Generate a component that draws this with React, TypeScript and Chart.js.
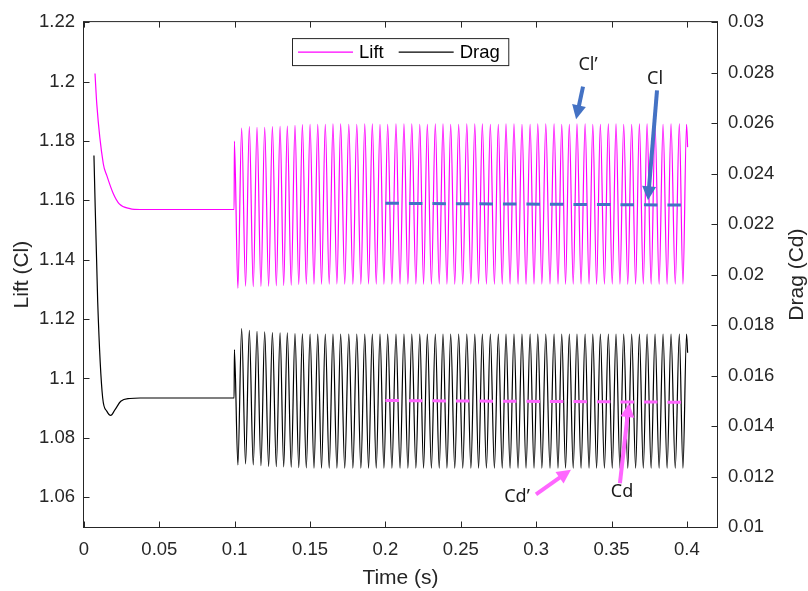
import React, { useEffect, useRef } from "react";
import { Chart, registerables } from "chart.js";

Chart.register(...registerables);

// ---------- axis ticks ----------
const xTickValues = [0, 0.05, 0.1, 0.15, 0.2, 0.25, 0.3, 0.35, 0.4];
const liftTickValues = [1.06, 1.08, 1.1, 1.12, 1.14, 1.16, 1.18, 1.2, 1.22];
const dragTickValues = [0.01, 0.012, 0.014, 0.016, 0.018, 0.02, 0.022, 0.024, 0.026, 0.028, 0.03];

// ---------- series names ----------
const seriesNames = ["Lift", "Drag"];

// ---------- transient (start-up) part ----------
const liftTransientT = [0.0073, 0.0085, 0.0128, 0.0151, 0.0194, 0.0234, 0.0305, 0.0372, 0.0996, 0.0998];
const liftTransientV = [1.2027, 1.1923, 1.1723, 1.1684, 1.1623, 1.1588, 1.1572, 1.1569, 1.1569, 1.1799];

const dragTransientT = [0.0066, 0.0091, 0.0124, 0.0151, 0.0177, 0.0206, 0.0244, 0.0305, 0.0372, 0.0996, 0.0998];
const dragTransientV = [0.02472, 0.0189, 0.01511, 0.01459, 0.01442, 0.01465, 0.01498, 0.01509, 0.01511, 0.01511, 0.01703];

// ---------- oscillation extrema ----------
const troughTimes = [
  0.1021, 0.1072, 0.1123, 0.1174, 0.1225, 0.1276, 0.1325, 0.1375, 0.1425, 0.1475,
  0.1526, 0.1576, 0.1627, 0.1678, 0.173, 0.1784, 0.1837, 0.1888, 0.1939, 0.199,
  0.2043, 0.2097, 0.2149, 0.2202, 0.2253, 0.2305, 0.2357, 0.2408, 0.246, 0.2513,
  0.2567, 0.2618, 0.267, 0.2723, 0.2775, 0.2827, 0.288, 0.2933, 0.2986, 0.3038,
  0.3092, 0.3145, 0.3195, 0.3246, 0.3298, 0.3351, 0.3401, 0.3453, 0.3505, 0.3556,
  0.3608, 0.366, 0.3711, 0.3763, 0.3816, 0.3869, 0.3923, 0.3974,
];
const peakTimes = [
  0.1046, 0.1097, 0.1148, 0.1199, 0.125, 0.1301, 0.1349, 0.14, 0.1449, 0.15,
  0.1551, 0.1601, 0.1652, 0.1703, 0.1757, 0.181, 0.1863, 0.1913, 0.1964, 0.2015,
  0.207, 0.2123, 0.2175, 0.2228, 0.2278, 0.2331, 0.2382, 0.2433, 0.2486, 0.254,
  0.2593, 0.2643, 0.2696, 0.2749, 0.28, 0.2853, 0.2906, 0.296, 0.3011, 0.3064,
  0.3119, 0.317, 0.322, 0.3271, 0.3325, 0.3376, 0.3426, 0.3479, 0.353, 0.3581,
  0.3634, 0.3685, 0.3736, 0.3789, 0.3842, 0.3895, 0.395, 0.3998,
];
const liftTroughs = [
  1.1304, 1.1311, 1.1309, 1.131, 1.1311, 1.1312, 1.1313, 1.1314, 1.1317, 1.1318,
  1.1318, 1.1318, 1.1318, 1.1318, 1.1318, 1.1318, 1.1318, 1.1318, 1.1318, 1.1318,
  1.1318, 1.1318, 1.1318, 1.1318, 1.1318, 1.1318, 1.1318, 1.1318, 1.1318, 1.1318,
  1.1318, 1.1318, 1.1318, 1.1318, 1.1318, 1.1318, 1.1318, 1.1318, 1.1318, 1.1318,
  1.1318, 1.1318, 1.1318, 1.1318, 1.1318, 1.1318, 1.1318, 1.1318, 1.1318, 1.1318,
  1.1318, 1.1318, 1.1318, 1.1318, 1.1318, 1.1318, 1.1318, 1.1318,
];
const liftPeaks = [
  1.1843, 1.1848, 1.1846, 1.1846, 1.1848, 1.1849, 1.185, 1.1852, 1.1855, 1.1856,
  1.1856, 1.1856, 1.1857, 1.1857, 1.1856, 1.1856, 1.1857, 1.1857, 1.1856, 1.1856,
  1.1857, 1.1857, 1.1857, 1.1856, 1.1856, 1.1857, 1.1857, 1.1856, 1.1856, 1.1857,
  1.1857, 1.1857, 1.1856, 1.1856, 1.1857, 1.1857, 1.1856, 1.1856, 1.1857, 1.1857,
  1.1857, 1.1856, 1.1856, 1.1857, 1.1857, 1.1856, 1.1856, 1.1857, 1.1857, 1.1856,
  1.1856, 1.1857, 1.1857, 1.1856, 1.1856, 1.1857, 1.1857, 1.1856,
];
const dragTroughs = [
  0.01246, 0.0125, 0.01246, 0.01243, 0.0124, 0.01239, 0.01238, 0.01237, 0.01235, 0.01234,
  0.01233, 0.01233, 0.01233, 0.01233, 0.01233, 0.01233, 0.01233, 0.01233, 0.01233, 0.01233,
  0.01233, 0.01233, 0.01233, 0.01233, 0.01233, 0.01233, 0.01233, 0.01233, 0.01233, 0.01233,
  0.01233, 0.01233, 0.01233, 0.01233, 0.01233, 0.01233, 0.01233, 0.01233, 0.01233, 0.01233,
  0.01233, 0.01233, 0.01233, 0.01233, 0.01233, 0.01233, 0.01233, 0.01233, 0.01233, 0.01233,
  0.01233, 0.01233, 0.01233, 0.01233, 0.01233, 0.01233, 0.01233, 0.01233,
];
const dragPeaks = [
  0.01786, 0.01779, 0.01775, 0.01773, 0.0177, 0.01769, 0.01769, 0.01766, 0.01765, 0.01764,
  0.01764, 0.01764, 0.01764, 0.01764, 0.01764, 0.01764, 0.01764, 0.01764, 0.01764, 0.01764,
  0.01764, 0.01764, 0.01764, 0.01764, 0.01764, 0.01764, 0.01764, 0.01764, 0.01764, 0.01764,
  0.01764, 0.01764, 0.01764, 0.01764, 0.01764, 0.01764, 0.01764, 0.01764, 0.01764, 0.01764,
  0.01764, 0.01764, 0.01764, 0.01764, 0.01764, 0.01764, 0.01764, 0.01764, 0.01764, 0.01764,
  0.01764, 0.01764, 0.01764, 0.01764, 0.01764, 0.01764, 0.01764, 0.01764,
];
const endTime = [0.4005];
const liftEnd = [1.1779];
const dragEnd = [0.0169];

// ---------- mean lines ----------
const meanTimes = [0.2, 0.4];
const clMean = [1.159, 1.1584];
const cdMean = [0.01501, 0.01494];

// ---------- annotations (data units, lift axis) ----------
const annoLabels = ["Cl\u2019", "Cl", "Cd\u2019", "Cd"];
const annoTextT = [0.3344, 0.3789, 0.2873, 0.357];
const annoTextV = [1.2057, 1.201, 1.06, 1.0617];
const arrowFromT = [0.3311, 0.3802, 0.2999, 0.3556];
const arrowFromV = [1.1983, 1.197, 1.061, 1.0647];
const arrowToT = [0.3265, 0.3742, 0.3231, 0.3616];
const arrowToV = [1.1873, 1.16, 1.0693, 1.0917];

// ---------- styles ----------
const LIFT_COLOR = "#FF00FF";
const DRAG_COLOR = "#000000";
const BLUE = "#4472C4";
const PINK = "#FF66FF";
const annoColors = [BLUE, BLUE, PINK, PINK];
const AXIS_COLOR = "#262626";
const FONT = "'Liberation Sans', Arial, Helvetica, sans-serif";
const ANNO_FONT = "'Noto Sans', 'Open Sans', sans-serif";

function buildSeries(tT: number[], tV: number[], troughs: number[], peaks: number[], endV: number[]) {
  const pts: { x: number; y: number }[] = [];
  tT.forEach((t, i) => pts.push({ x: t, y: tV[i] }));
  troughTimes.forEach((t, i) => {
    pts.push({ x: t, y: troughs[i] });
    pts.push({ x: peakTimes[i], y: peaks[i] });
  });
  endTime.forEach((t, i) => pts.push({ x: t, y: endV[i] }));
  return pts;
}

function drawArrow(ctx: CanvasRenderingContext2D, x1: number, y1: number, x2: number, y2: number, color: string) {
  const headLen = 14;
  const headW = 14;
  const ang = Math.atan2(y2 - y1, x2 - x1);
  const bx = x2 - Math.cos(ang) * headLen;
  const by = y2 - Math.sin(ang) * headLen;
  ctx.strokeStyle = color;
  ctx.fillStyle = color;
  ctx.lineWidth = 4;
  ctx.lineCap = "butt";
  ctx.beginPath();
  ctx.moveTo(x1, y1);
  ctx.lineTo(bx + Math.cos(ang) * 1, by + Math.sin(ang) * 1);
  ctx.stroke();
  const px = -Math.sin(ang) * headW / 2;
  const py = Math.cos(ang) * headW / 2;
  ctx.beginPath();
  ctx.moveTo(x2, y2);
  ctx.lineTo(bx + px, by + py);
  ctx.lineTo(bx - px, by - py);
  ctx.closePath();
  ctx.fill();
}

const overlayPlugin = {
  id: "overlay",
  afterDatasetsDraw(chart: any) {
    const { ctx, chartArea: a, scales } = chart;
    const xs = scales.x;
    const ys = scales.y;
    const y1s = scales.y1;
    ctx.save();

    // frame
    const L = a.left - 0.5;
    const R = a.right + 0.5;
    const T = a.top - 0.5;
    const B = a.bottom + 0.5;
    ctx.strokeStyle = AXIS_COLOR;
    ctx.lineWidth = 1;
    ctx.strokeRect(L, T, R - L, B - T);

    // inward ticks
    const tl = 6;
    ctx.beginPath();
    xTickValues.forEach((v) => {
      const px = Math.round(xs.getPixelForValue(v)) + 0.5;
      ctx.moveTo(px, B);
      ctx.lineTo(px, B - tl);
      ctx.moveTo(px, T);
      ctx.lineTo(px, T + tl);
    });
    liftTickValues.forEach((v) => {
      const py = Math.round(ys.getPixelForValue(v)) + 0.5;
      ctx.moveTo(L, py);
      ctx.lineTo(L + tl, py);
    });
    dragTickValues.forEach((v) => {
      const py = Math.round(y1s.getPixelForValue(v)) + 0.5;
      ctx.moveTo(R, py);
      ctx.lineTo(R - tl, py);
    });
    ctx.stroke();

    // axis titles
    ctx.fillStyle = AXIS_COLOR;
    ctx.font = `21px ${FONT}`;
    ctx.textAlign = "center";
    ctx.textBaseline = "middle";
    const cy = (a.top + a.bottom) / 2;
    ctx.fillText("Time (s)", (a.left + a.right) / 2, 578);
    ctx.save();
    ctx.translate(22, cy);
    ctx.rotate(-Math.PI / 2);
    ctx.fillText("Lift (Cl)", 0, 0);
    ctx.restore();
    ctx.save();
    ctx.translate(797, cy);
    ctx.rotate(-Math.PI / 2);
    ctx.fillText("Drag (Cd)", 0, 0);
    ctx.restore();

    // legend
    ctx.font = `18.5px ${FONT}`;
    const items = [0, 1].map((i) => chart.data.datasets[i]);
    const lineLen = 55;
    const gapLT = 6;
    const gapItems = 15;
    const padL = 5.5;
    const padR = 9;
    const widths = items.map((d: any) => ctx.measureText(d.label).width);
    let total = padL + padR + gapItems * (items.length - 1);
    widths.forEach((w: number) => (total += lineLen + gapLT + w));
    const cx = (a.left + a.right) / 2;
    const bx = Math.round(cx - total / 2) + 0.5;
    const by = a.top + 16.5;
    const bh = 27;
    ctx.fillStyle = "#ffffff";
    ctx.fillRect(bx, by, total, bh);
    ctx.strokeStyle = AXIS_COLOR;
    ctx.lineWidth = 1;
    ctx.strokeRect(bx, by, total, bh);
    let xx = bx + padL;
    const ly = by + bh / 2;
    items.forEach((d: any, i: number) => {
      ctx.strokeStyle = d.borderColor;
      ctx.lineWidth = 1.2;
      ctx.beginPath();
      ctx.moveTo(xx, ly);
      ctx.lineTo(xx + lineLen, ly);
      ctx.stroke();
      xx += lineLen + gapLT;
      ctx.fillStyle = "#000000";
      ctx.textAlign = "left";
      ctx.textBaseline = "middle";
      ctx.fillText(d.label, xx, ly + 1);
      xx += widths[i] + gapItems;
    });

    // annotations
    annoLabels.forEach((lab, i) => {
      const x1 = xs.getPixelForValue(arrowFromT[i]);
      const yy1 = ys.getPixelForValue(arrowFromV[i]);
      const x2 = xs.getPixelForValue(arrowToT[i]);
      const yy2 = ys.getPixelForValue(arrowToV[i]);
      drawArrow(ctx, x1, yy1, x2, yy2, annoColors[i]);
      ctx.fillStyle = "#1a1a1a";
      ctx.font = `18px ${ANNO_FONT}`;
      ctx.textAlign = "center";
      ctx.textBaseline = "middle";
      ctx.fillText(lab, xs.getPixelForValue(annoTextT[i]), ys.getPixelForValue(annoTextV[i]));
    });

    ctx.restore();
  },
};

export default function App() {
  const canvasRef = useRef<HTMLCanvasElement | null>(null);

  useEffect(() => {
    const canvas = canvasRef.current;
    if (!canvas) return;

    const liftData = buildSeries(liftTransientT, liftTransientV, liftTroughs, liftPeaks, liftEnd);
    const dragData = buildSeries(dragTransientT, dragTransientV, dragTroughs, dragPeaks, dragEnd);

    const tickFont = { family: FONT, size: 18.5 };

    const chart = new Chart(canvas, {
      type: "line",
      data: {
        datasets: [
          {
            label: seriesNames[0],
            data: liftData,
            borderColor: LIFT_COLOR,
            borderWidth: 1.2,
            pointRadius: 0,
            cubicInterpolationMode: "monotone",
            yAxisID: "y",
            order: 1,
          },
          {
            label: seriesNames[1],
            data: dragData,
            borderColor: DRAG_COLOR,
            borderWidth: 1.2,
            pointRadius: 0,
            cubicInterpolationMode: "monotone",
            yAxisID: "y1",
            order: 1,
          },
          {
            label: "Cl mean",
            data: meanTimes.map((t, i) => ({ x: t, y: clMean[i] })),
            borderColor: BLUE,
            borderWidth: 3,
            borderDash: [13.5, 10],
            pointRadius: 0,
            yAxisID: "y",
            order: 0,
          },
          {
            label: "Cd mean",
            data: meanTimes.map((t, i) => ({ x: t, y: cdMean[i] })),
            borderColor: PINK,
            borderWidth: 3,
            borderDash: [13.5, 10],
            pointRadius: 0,
            yAxisID: "y1",
            order: 0,
          },
        ],
      },
      options: {
        responsive: false,
        animation: false,
        events: [],
        layout: { padding: { top: 17, left: 0, right: 0, bottom: 0 } },
        plugins: {
          legend: { display: false },
          tooltip: { enabled: false },
          title: { display: false },
        },
        scales: {
          x: {
            type: "linear",
            min: 0,
            max: 0.42,
            position: "bottom",
            grid: { display: false, drawTicks: false },
            border: { display: false },
            ticks: {
              font: tickFont,
              color: AXIS_COLOR,
              padding: 12,
              maxRotation: 0,
              autoSkip: false,
              callback: (v: any) => String(v),
            },
            afterBuildTicks: (s: any) => {
              s.ticks = xTickValues.map((v) => ({ value: v }));
            },
            afterFit: (s: any) => {
              s.height = 64;
            },
          },
          y: {
            type: "linear",
            position: "left",
            min: 1.05,
            max: 1.22,
            grid: { display: false, drawTicks: false },
            border: { display: false },
            ticks: {
              font: tickFont,
              color: AXIS_COLOR,
              padding: 9,
              autoSkip: false,
              callback: (v: any) => String(v),
            },
            afterBuildTicks: (s: any) => {
              s.ticks = liftTickValues.map((v) => ({ value: v }));
            },
            afterFit: (s: any) => {
              s.width = 84;
            },
          },
          y1: {
            type: "linear",
            position: "right",
            min: 0.01,
            max: 0.03,
            grid: { display: false, drawTicks: false },
            border: { display: false },
            ticks: {
              font: tickFont,
              color: AXIS_COLOR,
              padding: 11,
              autoSkip: false,
              callback: (v: any) => String(v),
            },
            afterBuildTicks: (s: any) => {
              s.ticks = dragTickValues.map((v) => ({ value: v }));
            },
            afterFit: (s: any) => {
              s.width = 91;
            },
          },
        },
      } as any,
      plugins: [overlayPlugin],
    });

    return () => {
      chart.destroy();
    };
  }, []);

  return (
    <div style={{ position: "absolute", left: 0, top: 0, width: 808, height: 591, background: "#ffffff" }}>
      <canvas ref={canvasRef} width={808} height={591} style={{ display: "block" }} />
    </div>
  );
}
